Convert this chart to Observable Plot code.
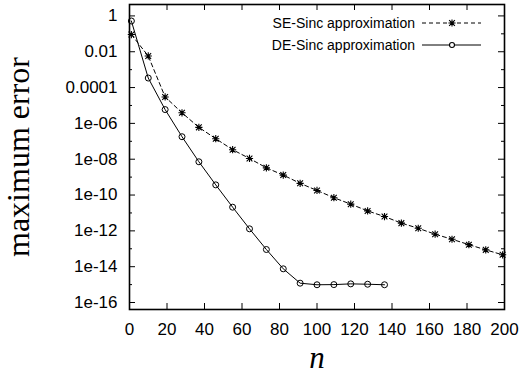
<!DOCTYPE html>
<html>
<head>
<meta charset="utf-8">
<script src="https://cdn.jsdelivr.net/npm/d3@7"></script>
<script src="https://cdn.jsdelivr.net/npm/@observablehq/plot@0.6"></script>
<style>
  html, body { margin: 0; padding: 0; background: #fff; }
  #chart { width: 524px; height: 374px; overflow: hidden; }
</style>
</head>
<body>
<div id="chart"></div>
<script>
// ---- data ----
const seriesNames = ["SE-Sinc approximation", "DE-Sinc approximation"];

const nSE = [1, 10, 19, 28, 37, 46, 55, 64, 73, 82, 91, 100, 109, 118, 127, 136, 145, 154, 163, 172, 181, 190, 199];
const errSE = [9.1e-2, 5.8e-3, 3.0e-5, 3.9e-6, 6.0e-7, 1.4e-7, 3.4e-8, 1.1e-8, 3.3e-9, 1.3e-9, 4.5e-10, 1.8e-10,
               7.1e-11, 3.1e-11, 1.3e-11, 6.3e-12, 2.7e-12, 1.4e-12, 6.5e-13, 3.4e-13, 1.7e-13, 8.7e-14, 4.6e-14];

const nDE = [1, 10, 19, 28, 37, 46, 55, 64, 73, 82, 91, 100, 109, 118, 127, 136];
const errDE = [5.2e-1, 3.4e-4, 5.9e-6, 1.8e-7, 7.2e-9, 3.7e-10, 2.1e-11, 1.3e-12, 9.1e-14, 7.6e-15,
               1.2e-15, 9.8e-16, 1.0e-15, 1.1e-15, 1.05e-15, 9.8e-16];

const xTicks = [0, 20, 40, 60, 80, 100, 120, 140, 160, 180, 200];
const yTicks = [1, 1e-2, 1e-4, 1e-6, 1e-8, 1e-10, 1e-12, 1e-14, 1e-16];
const yTickLabels = ["1", "0.01", "0.0001", "1e-06", "1e-08", "1e-10", "1e-12", "1e-14", "1e-16"];
const yMinorTicks = [1e-1, 1e-3, 1e-5, 1e-7, 1e-9, 1e-11, 1e-13, 1e-15];
const xLabel = "n";
const yLabel = "maximum error";

// ---- layout ----
const W = 524, H = 374;
const mL = 129, mR = 20, mT = 4, mB = 65;
const pw = W - mL - mR, ph = H - mT - mB;
const sans = "'Liberation Sans', Arial, Helvetica, sans-serif";
const serif = "'Liberation Serif', 'Times New Roman', serif";

// gnuplot-style "*" point: plus overlaid with a cross (8 arms)
const star8 = {
  draw(context, size) {
    const r = Math.sqrt(size / Math.PI);
    const d = r * 0.8;
    context.moveTo(-r, 0); context.lineTo(r, 0);
    context.moveTo(0, -r); context.lineTo(0, r);
    context.moveTo(-d, -d); context.lineTo(d, d);
    context.moveTo(-d, d); context.lineTo(d, -d);
  }
};

const se = nSE.map((n, i) => ({n, e: errSE[i]}));
const de = nDE.map((n, i) => ({n, e: errDE[i]}));

const svg = Plot.plot({
  width: W, height: H,
  marginLeft: mL, marginRight: mR, marginTop: mT, marginBottom: mB,
  style: {fontFamily: sans, fontSize: "17px", background: "#fff", color: "#000", overflow: "visible"},
  x: {domain: [0, 200], label: null},
  y: {type: "log", domain: [Math.pow(10, -16.39), Math.pow(10, 0.637)], label: null},
  marks: [
    // inward ticks
    Plot.tickY(yTicks, {y: d => d, insetRight: pw - 6, stroke: "#000", strokeWidth: 1}),
    Plot.tickY(yTicks, {y: d => d, insetLeft: pw - 6, stroke: "#000", strokeWidth: 1}),
    Plot.tickY(yMinorTicks, {y: d => d, insetRight: pw - 3, stroke: "#000", strokeWidth: 1}),
    Plot.tickY(yMinorTicks, {y: d => d, insetLeft: pw - 3, stroke: "#000", strokeWidth: 1}),
    Plot.tickX(xTicks, {x: d => d, insetTop: ph - 6, stroke: "#000", strokeWidth: 1}),
    Plot.tickX(xTicks, {x: d => d, insetBottom: ph - 6, stroke: "#000", strokeWidth: 1}),
    Plot.axisY(yTicks, {tickSize: 0, tickPadding: 12, fontSize: 17,
      tickFormat: d => yTickLabels[yTicks.indexOf(d)]}),
    Plot.axisX(xTicks, {tickSize: 0, tickPadding: 13, fontSize: 17, tickFormat: d => String(d)}),
    // series
    Plot.line(se, {x: "n", y: "e", stroke: "#000", strokeWidth: 1, strokeDasharray: "4,3"}),
    Plot.dot(se, {x: "n", y: "e", symbol: star8, r: 3.6, stroke: "#000", strokeWidth: 1.1}),
    Plot.line(de, {x: "n", y: "e", stroke: "#000", strokeWidth: 1}),
    Plot.dot(de, {x: "n", y: "e", symbol: "circle", r: 3, stroke: "#000", fill: "none", strokeWidth: 1}),
    // axis titles
    Plot.text([yLabel], {frameAnchor: "left", dx: -110.7, rotate: -90, fontSize: 32,
      fontFamily: serif, fill: "#000", textAnchor: "middle", lineAnchor: "middle"}),
    Plot.text([xLabel], {frameAnchor: "bottom", dy: 49, fontSize: 31, fontFamily: serif,
      fontStyle: "italic", fill: "#000", textAnchor: "middle", lineAnchor: "middle"}),
    Plot.frame({stroke: "#000", strokeWidth: 1.6})
  ]
});

// ---- legend (top-right, inside the frame) ----
const g = d3.select(svg).append("g").attr("class", "legend");
const styles = [
  {dash: "4,3", symbol: star8, size: Math.PI * 3.6 * 3.6},
  {dash: null, symbol: d3.symbolCircle, size: Math.PI * 2.5 * 2.5}
];
const rowY = [23, 45];
seriesNames.forEach((name, i) => {
  const y = rowY[i];
  g.append("text").attr("x", 415).attr("y", y).attr("dy", "0.35em")
    .attr("text-anchor", "end").attr("font-family", sans).attr("font-size", 14)
    .attr("fill", "#000").text(name);
  g.append("line").attr("x1", 422).attr("x2", 481).attr("y1", y).attr("y2", y)
    .attr("stroke", "#000").attr("stroke-width", 1)
    .attr("stroke-dasharray", styles[i].dash);
  g.append("path").attr("transform", `translate(452,${y})`)
    .attr("d", d3.symbol(styles[i].symbol, styles[i].size)())
    .attr("fill", i === 1 ? "#fff" : "none").attr("stroke", "#000").attr("stroke-width", 1.1);
});

document.getElementById("chart").appendChild(svg);
</script>
</body>
</html>
